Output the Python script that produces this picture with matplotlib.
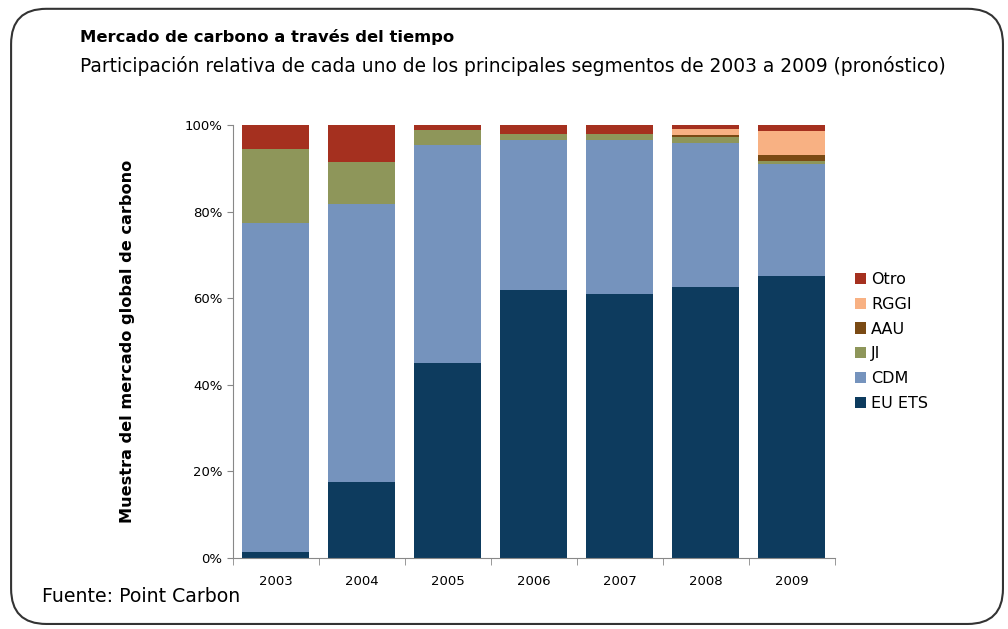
import matplotlib.pyplot as plt
from matplotlib.patches import FancyBboxPatch
from matplotlib.ticker import FixedLocator, PercentFormatter
import numpy as np

years = ['2003', '2004', '2005', '2006', '2007', '2008', '2009']
segments = ['EU ETS', 'CDM', 'JI', 'AAU', 'RGGI', 'Otro']

# share of the market in %
eu_ets = [1.4, 17.6, 45.0, 61.9, 61.0, 62.7, 65.1]
cdm = [76.0, 64.1, 50.4, 34.6, 35.5, 33.1, 25.9]
ji = [17.0, 9.7, 3.4, 1.4, 1.4, 1.4, 0.8]
aau = [0.0, 0.0, 0.0, 0.0, 0.0, 0.5, 1.3]
rggi = [0.0, 0.0, 0.0, 0.0, 0.0, 1.3, 5.6]
otro = [5.6, 8.6, 1.2, 2.1, 2.1, 1.0, 1.3]

colors = ['#0d3b5e', '#7593bd', '#8e965a', '#7a4a14', '#f8b183', '#a5301f']

plt.rcParams['font.family'] = ['DejaVu Sans']

fig = plt.figure(figsize=(10.08, 6.29), dpi=100)
frame = FancyBboxPatch((0.011, 0.008), 0.984, 0.978, boxstyle='round,pad=0,rounding_size=0.035',
                       transform=fig.transFigure, facecolor='none', edgecolor='#333333',
                       linewidth=1.5, mutation_aspect=1.6, zorder=-1)
fig.patches.append(frame)

ax = fig.add_axes([0.231, 0.113, 0.597, 0.688])
x = np.arange(len(years))
bottom = np.zeros(len(years))
handles = []
for name, vals, c in zip(segments, [eu_ets, cdm, ji, aau, rggi, otro], colors):
    b = ax.bar(x, vals, width=0.78, bottom=bottom, color=c, label=name)
    handles.append(b)
    bottom += np.array(vals)

ax.set_xlim(-0.5, len(years) - 0.5)
ax.set_ylim(0, 100)
ax.set_yticks(range(0, 101, 20))
ax.yaxis.set_major_formatter(PercentFormatter(decimals=0))
ax.set_xticks(x)
ax.set_xticklabels(years)
ax.tick_params(axis='x', length=0, labelsize=9.5, pad=12)
ax.xaxis.set_minor_locator(FixedLocator(np.arange(-0.5, len(years), 1)))
ax.tick_params(axis='x', which='minor', length=5, color='#888888')
ax.tick_params(axis='y', length=4, color='#888888', labelsize=9.5)
for s in ['top', 'right']:
    ax.spines[s].set_visible(False)
for s in ['left', 'bottom']:
    ax.spines[s].set_color('#888888')

ax.set_ylabel('Muestra del mercado global de carbono', fontsize=11.6, fontweight='bold', labelpad=36)

ax.legend(handles[::-1], segments[::-1], loc='center left', bbox_to_anchor=(1.01, 0.5),
          frameon=False, fontsize=11.5, handlelength=0.7, handleheight=0.7,
          handletextpad=0.3, labelspacing=0.62)

fig.text(0.079, 0.933, 'Mercado de carbono a través del tiempo', fontsize=11.8, fontweight='bold')
fig.text(0.079, 0.885, 'Participación relativa de cada uno de los principales segmentos de 2003 a 2009 (pronóstico)',
         fontsize=13.4)
fig.text(0.042, 0.043, 'Fuente: Point Carbon', fontsize=13.6)

plt.savefig('out.png', dpi=100)
